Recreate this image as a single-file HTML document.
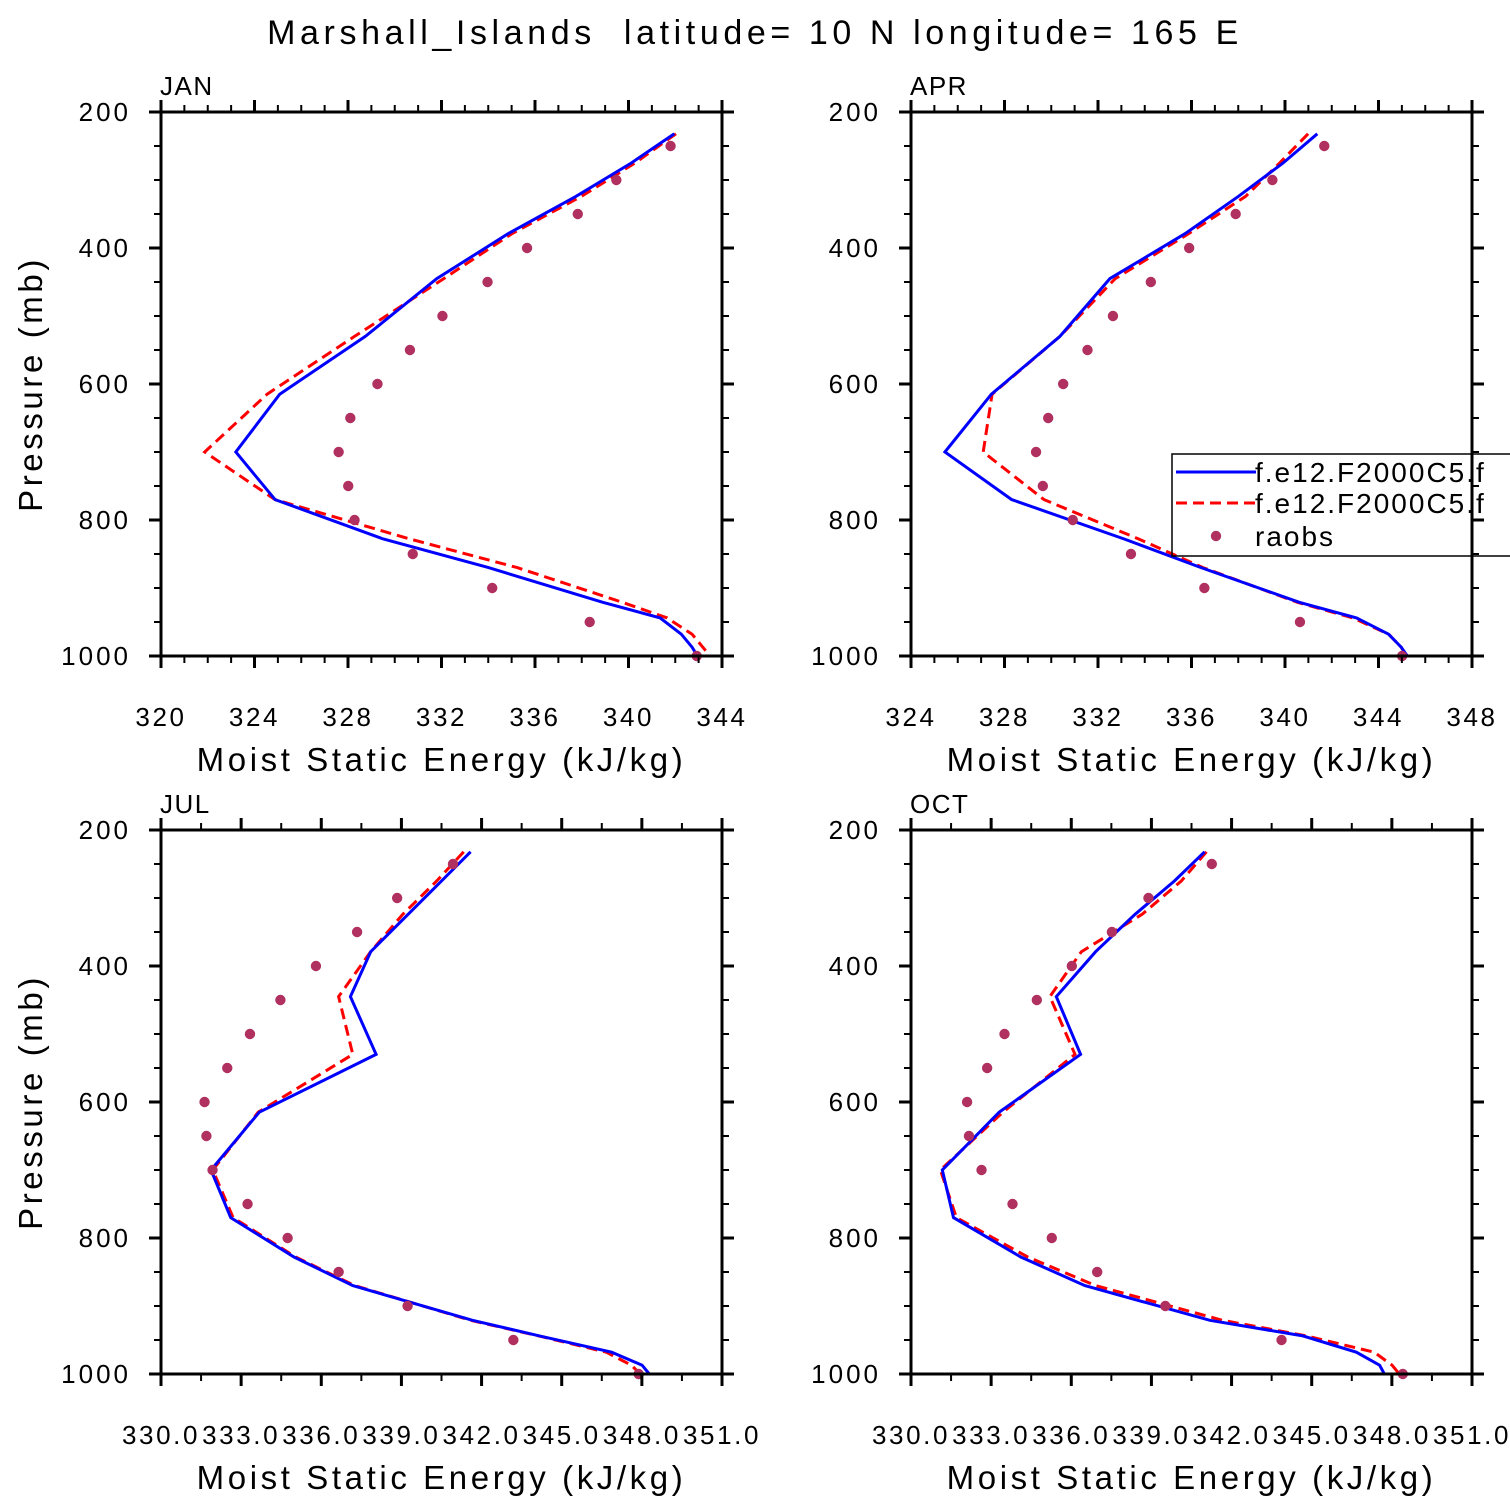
<!DOCTYPE html>
<html><head><meta charset="utf-8"><style>
body{margin:0;background:#fff}
svg{display:block;font-family:"Liberation Sans","DejaVu Sans",sans-serif}
</style></head><body>
<svg id="chart" width="1510" height="1510" viewBox="0 0 1510 1510">
<text x="755" y="44" text-anchor="middle" font-size="34" letter-spacing="4.6" style="white-space:pre">Marshall_Islands  latitude= 10 N longitude= 165 E</text>
</svg>
<script>
const modelLevels=[232,275,324,379,445,530,615,700,770,828,870,921,944,968,987,1000];
const obsLevels=[250,300,350,400,450,500,550,600,650,700,750,800,850,900,950,1000];
const janBlue=[341.96,340.12,337.76,334.85,331.8,328.74,325.08,323.2,324.88,329.51,334.01,338.9,341.35,342.26,342.72,342.95];
const janRed=[342.03,340.28,337.99,335.01,332.1,328.28,324.54,321.87,324.88,330.65,335.24,339.74,341.65,342.72,343.18,343.49];
const janObs=[341.8,339.48,337.83,335.66,333.97,332.04,330.65,329.26,328.1,327.6,328.01,328.28,330.77,334.17,338.34,342.92];
const aprBlue=[341.38,339.92,338.01,335.72,332.51,330.37,327.44,325.45,328.31,333.12,336.41,340.61,343.06,344.43,344.97,345.23];
const aprRed=[340.99,339.77,338.32,335.87,332.74,330.37,327.47,327.09,329.69,333.74,336.49,340.53,342.9,344.43,344.97,345.2];
const aprObs=[341.68,339.46,337.89,335.9,334.26,332.64,331.55,330.51,329.87,329.35,329.64,330.92,333.41,336.55,340.64,345.01];
const julBlue=[341.59,340.5,339.25,337.85,337.09,338.05,333.68,331.87,332.61,334.98,337.18,341.66,344.17,346.87,348.01,348.28];
const julRed=[341.33,340.32,339.05,337.85,336.65,337.18,333.64,331.94,332.7,335.04,337.25,341.59,344.13,346.67,347.61,347.94];
const julObs=[340.93,338.84,337.34,335.8,334.47,333.33,332.48,331.63,331.7,331.93,333.24,334.74,336.65,339.23,343.19,347.88];
const octBlue=[340.99,339.86,338.39,336.91,335.44,336.35,333.3,331.17,331.59,334.11,336.51,341.19,344.67,346.67,347.54,347.72];
const octRed=[341.06,340.12,338.65,336.38,335.2,336.14,333.44,331.1,331.7,334.37,336.91,341.66,344.8,347.34,348.01,348.28];
const octObs=[341.26,338.89,337.52,336.02,334.71,333.5,332.85,332.1,332.17,332.64,333.8,335.27,336.97,339.52,343.87,348.41];
const pTicks=[200,400,600,800,1000];
const janX=[320,324,328,332,336,340,344];
const aprX=[324,328,332,336,340,344,348];
const julX=[330.0,333.0,336.0,339.0,342.0,345.0,348.0,351.0];

const svg=document.getElementById('chart');
const NS='http://www.w3.org/2000/svg';
function mk(tag,attrs,parent){const e=document.createElementNS(NS,tag);for(const k in attrs)e.setAttribute(k,attrs[k]);(parent||svg).appendChild(e);return e;}

function panel(name,x0,y0,xt,minorStep,labFmt,blue,red,obs){
  const W=561,H=544;
  const xmin=xt[0],xmax=xt[xt.length-1];
  const sx=v=>x0+(v-xmin)/(xmax-xmin)*W;
  const sy=p=>y0+(p-200)/800*H;
  const g=mk('g',{});
  
  
  const t=mk('text',{x:x0-1,y:y0-17,'font-size':26,'letter-spacing':1.5},g);t.textContent=name;
  
  
  const line=(vals,color,dash,nm)=>{
    const pts=vals.map((v,i)=>sx(v).toFixed(1)+','+sy(modelLevels[i]).toFixed(1)).join(' ');
    const pl=mk('polyline',{points:pts,fill:'none',stroke:color,'stroke-width':3,'stroke-dasharray':dash},g);
    
    
  };
  line(red,'#ff0000','11,6','series-red-dashed');
  line(blue,'#0000ff','none','series-blue');
  obs.forEach((v,i)=>{
    const c=mk('circle',{cx:sx(v),cy:sy(obsLevels[i]),r:5.2,fill:'#b03060'},g);
    
    
  });
  const fr=mk('rect',{x:x0,y:y0,width:W,height:H,fill:'none',stroke:'#000','stroke-width':3},g);
  
  
  for(let p=200;p<=1000;p+=50){
    const maj=pTicks.includes(p);const L=maj?12:7;const y=sy(p);
    mk('line',{x1:x0-L,y1:y,x2:x0,y2:y,stroke:'#000','stroke-width':maj?3:2},g);
    mk('line',{x1:x0+W,y1:y,x2:x0+W+L,y2:y,stroke:'#000','stroke-width':maj?3:2},g);
  }
  pTicks.forEach(p=>{
    const tl=mk('text',{x:x0-30,y:sy(p)+9,'font-size':26,'text-anchor':'end','letter-spacing':3},g);tl.textContent=p;
    
    
  });
  for(let v=xmin;v<=xmax+1e-6;v+=minorStep){
    const maj=xt.some(m=>Math.abs(m-v)<1e-6);const L=maj?12:7;const x=sx(v);
    mk('line',{x1:x,y1:y0-L,x2:x,y2:y0,stroke:'#000','stroke-width':maj?3:2},g);
    mk('line',{x1:x,y1:y0+H,x2:x,y2:y0+H+L,stroke:'#000','stroke-width':maj?3:2},g);
  }
  xt.forEach(v=>{
    const tl=mk('text',{x:sx(v),y:y0+H+70,'font-size':26,'text-anchor':'middle','letter-spacing':2.6},g);tl.textContent=labFmt(v);
    
    
  });
  const xtl=mk('text',{x:x0+W/2,y:y0+H+115,'font-size':33,'text-anchor':'middle','letter-spacing':3.6},g);
  xtl.textContent='Moist Static Energy (kJ/kg)';
  
  
  if(x0<500){
    const yt=mk('text',{x:0,y:0,'font-size':33,'text-anchor':'middle','letter-spacing':3.6,transform:`translate(42,${y0+H/2}) rotate(-90)`},g);
    yt.textContent='Pressure (mb)';
    
    
  }
  return g;
}
const fi=v=>String(Math.round(v));
const f1=v=>v.toFixed(1);
panel('JAN',161,112,janX,1,fi,janBlue,janRed,janObs);
panel('APR',911,112,aprX,1,fi,aprBlue,aprRed,aprObs);
panel('JUL',161,830,julX,1.5,f1,julBlue,julRed,julObs);
panel('OCT',911,830,julX,1.5,f1,octBlue,octRed,octObs);

const lg=mk('g',{});


mk('rect',{x:1172,y:454,width:360,height:102,fill:'none',stroke:'#000','stroke-width':1.5},lg);
const e1=mk('line',{x1:1176,y1:472,x2:1256,y2:472,stroke:'#0000ff','stroke-width':3},lg);


const e2=mk('line',{x1:1176,y1:503,x2:1256,y2:503,stroke:'#ff0000','stroke-width':3,'stroke-dasharray':'11,6'},lg);


const e3=mk('circle',{cx:1216,cy:536,r:5.2,fill:'#b03060'},lg);


[['f.e12.F2000C5.f',482],['f.e12.F2000C5.f',513],['raobs',546]].forEach(([s,y])=>{
  const tx=mk('text',{x:1255,y:y,'font-size':28,'letter-spacing':2},lg);tx.textContent=s;
  
  
});
</script>
</body></html>
